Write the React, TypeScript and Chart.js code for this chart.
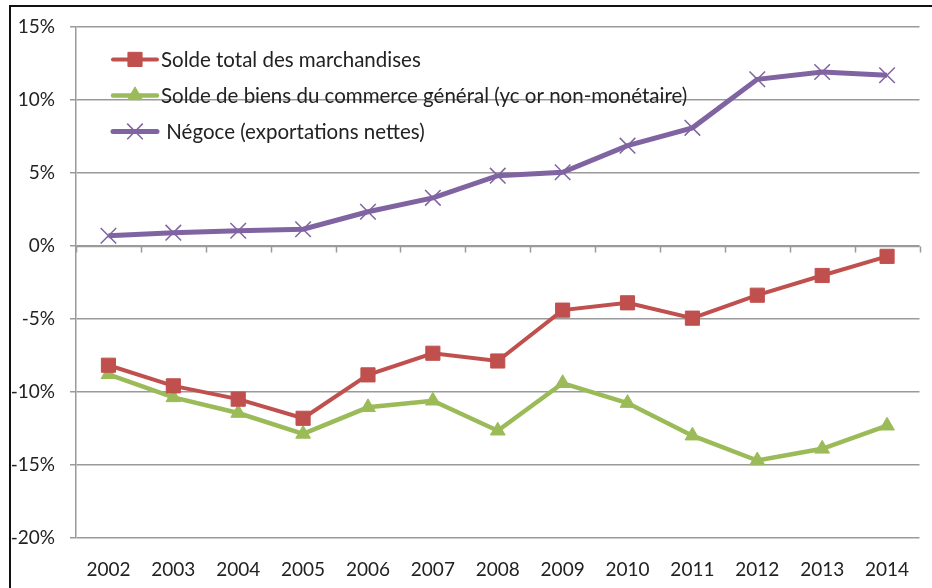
import React, { useEffect, useRef } from 'react';
import { Chart, registerables } from 'chart.js';

Chart.register(...registerables);

const years = ['2002', '2003', '2004', '2005', '2006', '2007', '2008', '2009', '2010', '2011', '2012', '2013', '2014'];
const soldeTotal = [-8.18, -9.59, -10.5, -11.81, -8.84, -7.36, -7.89, -4.41, -3.91, -4.96, -3.39, -2.04, -0.73];
const soldeBiens = [-8.8, -10.38, -11.45, -12.88, -11.06, -10.61, -12.66, -9.41, -10.77, -13.0, -14.7, -13.9, -12.32];
const negoce = [0.68, 0.89, 1.02, 1.12, 2.32, 3.27, 4.79, 5.02, 6.84, 8.06, 11.38, 11.88, 11.66];
const seriesLabels = [
  'Solde total des marchandises',
  'Solde de biens du commerce général (yc or non-monétaire)',
  ' Négoce (exportations nettes)',
];
const yMin = -20;
const yMax = 15;
const yStep = 5;

const RED = '#C0504D';
const GREEN = '#9BBB59';
const PURPLE = '#8064A2';
const GRID = '#9a9a9a';
const TEXT = '#222222';
const FONT = 'Lato, "Open Sans", sans-serif';
const FONT_SIZE = 19;
const LEGEND_FONT_SIZE = 20.5;

function drawMarker(ctx: CanvasRenderingContext2D, style: string, x: number, y: number, r: number, color: string, bw: number) {
  ctx.save();
  ctx.fillStyle = color;
  ctx.strokeStyle = color;
  ctx.lineWidth = bw;
  ctx.beginPath();
  if (style === 'rect') {
    const s = Math.SQRT1_2 * r;
    ctx.rect(x - s, y - s, 2 * s, 2 * s);
    ctx.fill();
    ctx.stroke();
  } else if (style === 'triangle') {
    let rad = 0;
    ctx.moveTo(x + Math.sin(rad) * r, y - Math.cos(rad) * r);
    rad += (2 * Math.PI) / 3;
    ctx.lineTo(x + Math.sin(rad) * r, y - Math.cos(rad) * r);
    rad += (2 * Math.PI) / 3;
    ctx.lineTo(x + Math.sin(rad) * r, y - Math.cos(rad) * r);
    ctx.closePath();
    ctx.fill();
    ctx.stroke();
  } else {
    const o = Math.SQRT1_2 * r;
    ctx.moveTo(x - o, y - o);
    ctx.lineTo(x + o, y + o);
    ctx.moveTo(x - o, y + o);
    ctx.lineTo(x + o, y - o);
    ctx.stroke();
  }
  ctx.restore();
}

const zeroAxisPlugin = {
  id: 'zeroAxis',
  beforeDatasetsDraw(chart: any) {
    const ctx = chart.ctx as CanvasRenderingContext2D;
    const { left, right } = chart.chartArea;
    const y = Math.round(chart.scales.y.getPixelForValue(0)) + 0.5;
    const n = chart.data.labels.length;
    ctx.save();
    ctx.strokeStyle = GRID;
    ctx.lineWidth = 1.5;
    ctx.beginPath();
    ctx.moveTo(left, y);
    ctx.lineTo(right, y);
    for (let i = 0; i <= n; i++) {
      const x = Math.round(left + ((right - left) * i) / n) + 0.5;
      ctx.moveTo(x, y);
      ctx.lineTo(x, y + 6);
    }
    ctx.stroke();
    ctx.restore();
  },
};

const insideLegendPlugin = {
  id: 'insideLegend',
  afterDatasetsDraw(chart: any) {
    const ctx = chart.ctx as CanvasRenderingContext2D;
    const { left, top } = chart.chartArea;
    chart.data.datasets.forEach((ds: any, i: number) => {
      const y = top + 33 + i * 36;
      const x0 = left + 37;
      const x1 = left + 81;
      ctx.save();
      ctx.strokeStyle = ds.borderColor;
      ctx.lineWidth = ds.borderWidth;
      ctx.lineCap = 'round';
      ctx.beginPath();
      ctx.moveTo(x0, y);
      ctx.lineTo(x1, y);
      ctx.stroke();
      ctx.restore();
      drawMarker(ctx, ds.pointStyle, (x0 + x1) / 2, y, ds.pointRadius, ds.borderColor, ds.pointBorderWidth);
      ctx.save();
      ctx.fillStyle = TEXT;
      ctx.font = `${LEGEND_FONT_SIZE}px ${FONT}`;
      ctx.textBaseline = 'middle';
      ctx.textAlign = 'left';
      ctx.fillText(ds.label, x1 + 4, y + 1);
      ctx.restore();
    });
  },
};

export default function App() {
  const canvasRef = useRef<HTMLCanvasElement | null>(null);

  useEffect(() => {
    if (!canvasRef.current) return;
    const chart = new Chart(canvasRef.current, {
      type: 'line',
      data: {
        labels: years,
        datasets: [
          {
            label: seriesLabels[0],
            data: soldeTotal,
            borderColor: RED,
            backgroundColor: RED,
            borderWidth: 4,
            pointStyle: 'rect',
            pointRadius: 10,
            pointBorderWidth: 1,
            pointBackgroundColor: RED,
            pointBorderColor: RED,
            tension: 0,
          },
          {
            label: seriesLabels[1],
            data: soldeBiens,
            borderColor: GREEN,
            backgroundColor: GREEN,
            borderWidth: 4.5,
            pointStyle: 'triangle',
            pointRadius: 8.5,
            pointBorderWidth: 1,
            pointBackgroundColor: GREEN,
            pointBorderColor: GREEN,
            tension: 0,
          },
          {
            label: seriesLabels[2],
            data: negoce,
            borderColor: PURPLE,
            backgroundColor: PURPLE,
            borderWidth: 5,
            pointStyle: 'crossRot',
            pointRadius: 11,
            pointBorderWidth: 1.5,
            pointBackgroundColor: PURPLE,
            pointBorderColor: PURPLE,
            tension: 0,
          },
        ],
      },
      options: {
        responsive: false,
        animation: false,
        layout: { padding: { left: 0, right: 12, top: 25, bottom: 0 } },
        plugins: {
          legend: { display: false },
          tooltip: { enabled: false },
        },
        scales: {
          x: {
            type: 'category',
            offset: true,
            grid: { display: false, drawTicks: false },
            border: { display: false },
            ticks: {
              color: TEXT,
              font: { family: FONT, size: FONT_SIZE },
              padding: 20,
              maxRotation: 0,
              autoSkip: false,
            },
            afterFit: (scale: any) => {
              scale.height = 50;
            },
          },
          y: {
            min: yMin,
            max: yMax,
            grid: { color: GRID, lineWidth: 1.5, tickLength: 6, drawTicks: true },
            border: { display: true, color: GRID, width: 1.5 },
            ticks: {
              stepSize: yStep,
              color: TEXT,
              font: { family: FONT, size: FONT_SIZE },
              padding: 15,
              callback: (v: any) => `${v}%`,
            },
            afterFit: (scale: any) => {
              scale.width = 76;
            },
          },
        },
      },
      plugins: [zeroAxisPlugin, insideLegendPlugin],
    });
    return () => chart.destroy();
  }, []);

  return (
    <div style={{ position: 'fixed', left: 0, top: 0, width: 932, height: 588, overflow: 'hidden', background: '#fff' }}>
      <div
        style={{
          position: 'absolute',
          left: 9,
          top: 5,
          width: 2000,
          height: 2000,
          border: '2px solid #111',
          boxSizing: 'border-box',
        }}
      />
      <canvas
        ref={canvasRef}
        width={932}
        height={588}
        style={{ position: 'absolute', left: 0, top: 0, display: 'block' }}
      />
    </div>
  );
}
